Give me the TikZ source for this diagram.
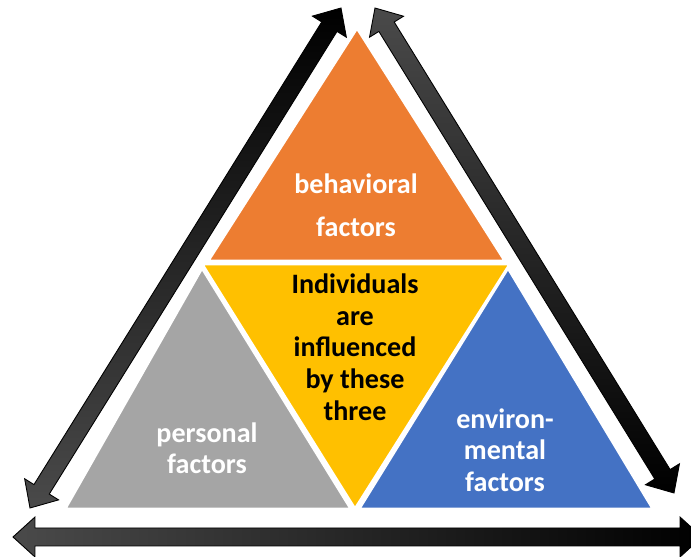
\documentclass[tikz,border=0pt]{standalone}
\usepackage{fontspec}
\setmainfont{Carlito}
\usepackage{xcolor}
\usetikzlibrary{calc,positioning}
\definecolor{orangeF}{HTML}{ED7D31}
\definecolor{grauF}{HTML}{A5A5A5}
\definecolor{gelbF}{HTML}{FFC000}
\definecolor{blauF}{HTML}{4472C4}
\definecolor{pfeilgrau}{HTML}{4A4A4A}
\tikzset{
	dreieck/.style={draw=white, line width=1.6pt, line join=miter},
	faktor/.style={text=white, align=center, inner sep=0pt, font=\bfseries\fontsize{16}{18}\selectfont},
	pfeilrand/.style={draw=black, line width=0.5pt, line join=miter}
}
% Blockpfeil mit zwei Spitzen: #1 und #2 sind die Spitzen, #3 die Schattierung
\newcommand{\blockpfeil}[3]{%
	\coordinate (#1-h) at ($(#1)!0.44cm!(#2)$);
	\coordinate (#2-h) at ($(#2)!0.44cm!(#1)$);
	\shade[pfeilrand, #3] (#1) -- ($(#1-h)!0.4cm!90:(#2)$) -- ($(#1-h)!0.18cm!90:(#2)$)
		-- ($(#2-h)!0.18cm!-90:(#1)$) -- ($(#2-h)!0.4cm!-90:(#1)$) -- (#2)
		-- ($(#2-h)!0.4cm!90:(#1)$) -- ($(#2-h)!0.18cm!90:(#1)$)
		-- ($(#1-h)!0.18cm!-90:(#2)$) -- ($(#1-h)!0.4cm!-90:(#2)$) -- cycle;
}

\begin{document}
\begin{tikzpicture}[x=0.02cm, y=-0.02cm]
		\useasboundingbox (0,0) rectangle (691,557);
		\clip (0,0) rectangle (691,557);
		
		% Spitzen der Pfeile
		\coordinate (links-u) at (30,508);
		\coordinate (links-o) at (341,8);
		\coordinate (rechts-o) at (375,8);
		\coordinate (rechts-u) at (674,493);
		\coordinate (unten-l) at (13,537);
		\coordinate (unten-r) at (702,537);
		
		\blockpfeil{links-u}{links-o}{top color=black, middle color=black, bottom color=pfeilgrau}
		\blockpfeil{rechts-o}{rechts-u}{top color=pfeilgrau, middle color=black, bottom color=black}
		\blockpfeil{unten-l}{unten-r}{left color=pfeilgrau, middle color=black, right color=black}
		
		% Dreiecke
		\fill[orangeF, dreieck] (357,28) -- (505,261) -- (208,261) -- cycle;	% oben
		\fill[grauF, dreieck] (202,268) -- (351,509) -- (65,509) -- cycle;		% links
		\fill[blauF, dreieck] (508,268) -- (653,509) -- (359,509) -- cycle;		% rechts
		\fill[gelbF, dreieck] (202,264) -- (510,264) -- (355,509) -- cycle;		% Mitte
		
		% Beschriftungen
		\node[faktor, font=\bfseries\fontsize{16}{24.4}\selectfont] (verhalten) at (356,205) {behavioral\\factors};
		\node[faktor, text=black] (mitte) at (355,347) {Individuals\\are\\influenced\\by these\\three};
		\node[faktor, font=\bfseries\fontsize{16}{17.6}\selectfont] (person) at (207,448) {personal\\factors};
		\node[faktor] (umwelt) at (505,450) {environ-\\mental\\factors};
		
		\end{tikzpicture}
\end{document}
